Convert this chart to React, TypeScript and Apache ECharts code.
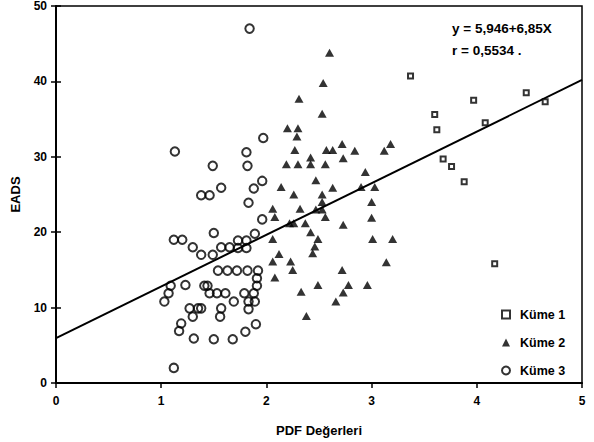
import React, { useEffect, useRef } from "react";
import * as echarts from "echarts";

const xTicks = [0, 1, 2, 3, 4, 5];
const yTicks = [0, 10, 20, 30, 40, 50];

const kume1: [number, number][] = [
  [3.37, 40.7], [3.97, 37.5], [4.47, 38.5], [4.65, 37.3], [3.6, 35.6], [3.62, 33.6],
  [4.08, 34.5], [3.68, 29.7], [3.76, 28.7], [3.88, 26.7], [4.17, 15.8],
];

const kume2: [number, number][] = [
  [2.6, 43.8], [2.54, 39.8], [2.31, 37.7], [2.53, 35.7], [2.2, 33.8], [2.3, 33.8],
  [2.29, 32.7], [2.27, 30.9], [2.57, 30.9], [2.63, 30.9], [2.72, 31.7], [2.84, 30.8],
  [3.18, 31.7], [3.12, 30.8], [2.42, 29.9], [2.73, 29.8], [2.19, 29.0], [2.3, 29.0],
  [2.42, 29.0], [2.56, 29.0], [2.94, 28.0], [2.47, 26.9], [2.14, 26.0], [2.63, 25.9],
  [2.9, 26.0], [3.03, 26.0], [2.26, 25.0], [2.53, 25.0], [2.53, 24.0], [3.0, 24.0],
  [2.06, 23.1], [2.32, 23.1], [2.47, 23.0], [2.53, 23.0], [2.08, 22.0], [2.56, 22.0],
  [3.0, 21.9], [2.22, 21.2], [2.26, 21.2], [2.37, 21.2], [2.73, 21.0], [2.42, 20.0],
  [2.06, 19.1], [2.49, 19.1], [3.01, 19.1], [3.2, 19.1], [2.46, 18.1], [2.44, 17.2],
  [2.12, 17.1], [2.06, 16.1], [2.23, 16.1], [3.14, 16.0], [2.25, 15.0], [2.72, 15.0],
  [2.08, 14.0], [2.49, 13.0], [2.78, 13.0], [2.96, 13.0], [2.33, 12.1], [2.73, 12.0],
  [2.66, 10.8], [2.38, 8.9],
];

const kume3: [number, number][] = [
  [1.84, 47.0], [1.97, 32.5], [1.13, 30.7], [1.81, 30.6], [1.49, 28.8], [1.82, 28.8],
  [1.96, 26.8], [1.88, 25.8], [1.57, 25.9], [1.38, 24.9], [1.46, 24.9], [1.83, 23.9],
  [1.96, 21.7], [1.5, 19.9], [1.12, 19.0], [1.2, 19.0], [1.3, 18.0], [1.38, 17.0],
  [1.49, 17.0], [1.57, 18.0], [1.65, 18.0], [1.73, 18.9], [1.81, 18.9], [1.73, 17.9],
  [1.81, 17.9], [1.89, 19.8], [1.54, 14.9], [1.63, 14.9], [1.72, 14.9], [1.82, 14.9],
  [1.92, 14.9], [1.91, 13.9], [1.09, 12.9], [1.23, 13.0], [1.41, 12.9], [1.44, 12.9],
  [1.91, 12.9], [1.07, 11.9], [1.03, 10.8], [1.46, 11.9], [1.53, 11.9], [1.61, 11.9],
  [1.79, 11.9], [1.88, 11.9], [1.83, 10.8], [1.89, 10.8], [1.69, 10.8], [1.27, 9.9],
  [1.35, 9.9], [1.38, 9.9], [1.3, 8.8], [1.57, 9.9], [1.56, 8.8], [1.83, 9.8],
  [1.19, 7.9], [1.17, 6.9], [1.31, 5.9], [1.5, 5.8], [1.68, 5.8], [1.8, 6.8],
  [1.9, 7.8], [1.12, 2.0],
];

const intercept = 5.946;
const slope = 6.85;
const lineX = [0, 5];
const equationText = "y = 5,946+6,85X";
const rText = "r = 0,5534 .";

const FONT = "'Liberation Sans', Arial, sans-serif";

export default function App() {
  const ref = useRef<HTMLDivElement>(null);
  useEffect(() => {
    if (!ref.current) return;
    const chart = echarts.init(ref.current, undefined, { renderer: "svg" });
    const lineData = lineX.map((x) => [x, intercept + slope * x]);
    chart.setOption({
      animation: false,
      backgroundColor: "#fff",
      textStyle: { fontFamily: FONT },
      grid: {
        left: 56, right: 12, top: 6, bottom: 59,
        show: true, borderColor: "#000", borderWidth: 1.5,
      },
      xAxis: {
        type: "value", min: 0, max: 5, interval: 1,
        name: "PDF Değerleri", nameLocation: "middle", nameGap: 41,
        nameTextStyle: { fontFamily: FONT, fontWeight: "bold", fontSize: 13, color: "#000" },
        axisLine: { show: true, lineStyle: { color: "#000", width: 2 } },
        axisTick: { show: true, length: 5, lineStyle: { color: "#000", width: 1.5 } },
        axisLabel: {
          margin: 12, fontFamily: FONT, fontWeight: "bold", fontSize: 12, color: "#000",
          formatter: (v: number) => (xTicks.includes(v) ? String(v) : ""),
        },
        splitLine: { show: false },
      },
      yAxis: [
        {
          type: "value", min: 0, max: 50, interval: 10,
          name: "EADS", nameLocation: "middle", nameGap: 34, nameRotate: 90,
          nameTextStyle: { fontFamily: FONT, fontWeight: "bold", fontSize: 13, color: "#000" },
          axisLine: { show: true, lineStyle: { color: "#000", width: 2 } },
          axisTick: { show: true, length: 5, lineStyle: { color: "#000", width: 1.5 } },
          axisLabel: {
            margin: 9, fontFamily: FONT, fontWeight: "bold", fontSize: 12, color: "#000",
            formatter: (v: number) => (yTicks.includes(v) ? String(v) : ""),
          },
          splitLine: { show: false },
        },
        {
          type: "value", min: 0, max: 50, interval: 10, position: "left",
          axisLine: { show: false },
          axisTick: { show: true, inside: true, length: 5, lineStyle: { color: "#000", width: 1.5 } },
          axisLabel: { show: false },
          splitLine: { show: false },
        },
      ],
      legend: {
        orient: "vertical", left: 496, top: 303,
        itemWidth: 8, itemHeight: 8, itemGap: 15,
        data: ["Küme 1", "Küme 2", "Küme 3"],
        textStyle: { fontFamily: FONT, fontWeight: "bold", fontSize: 12.5, color: "#000", padding: [0, 0, 0, 5] },
      },
      graphic: [
        {
          type: "text", left: 452, top: 21,
          style: { text: equationText, fontFamily: FONT, fontWeight: "bold", fontSize: 13.5, fill: "#000" },
        },
        {
          type: "text", left: 452, top: 43,
          style: { text: rText, fontFamily: FONT, fontWeight: "bold", fontSize: 13.5, fill: "#000" },
        },
      ],
      series: [
        {
          type: "line", name: "Regresyon", data: lineData, showSymbol: false, symbol: "none",
          lineStyle: { color: "#000", width: 2 }, z: 1,
        },
        {
          type: "scatter", name: "Küme 1", data: kume1, symbol: "rect", symbolSize: 5,
          itemStyle: { color: "#fff", borderColor: "#000", borderWidth: 2 }, z: 3,
        },
        {
          type: "scatter", name: "Küme 2", data: kume2, symbol: "triangle", symbolSize: [9, 8],
          itemStyle: { color: "#000" }, z: 3,
        },
        {
          type: "scatter", name: "Küme 3", data: kume3, symbol: "circle", symbolSize: 8.5,
          itemStyle: { color: "rgba(255,255,255,0)", borderColor: "#000", borderWidth: 2 }, z: 3,
        },
      ],
    });
    return () => chart.dispose();
  }, []);
  return <div ref={ref} style={{ width: 594, height: 442, position: "absolute", left: 0, top: 0 }} />;
}
